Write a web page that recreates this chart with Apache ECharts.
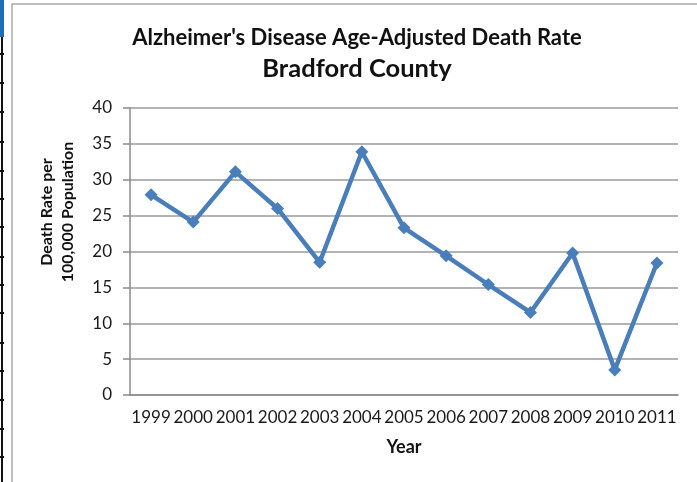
<!DOCTYPE html>
<html>
<head>
<meta charset="utf-8">
<script src="https://cdn.jsdelivr.net/npm/echarts@6/dist/echarts.min.js"></script>
<style>
html,body{margin:0;padding:0;background:#fff;}
#chart{width:697px;height:482px;}
</style>
</head>
<body>
<div id="chart"></div>
<script>
var years = ['1999','2000','2001','2002','2003','2004','2005','2006','2007','2008','2009','2010','2011'];
var deathRate = [27.9, 24.1, 31.1, 26.0, 18.5, 33.9, 23.3, 19.4, 15.4, 11.5, 19.8, 3.5, 18.4];
var titleText = "Alzheimer's Disease Age-Adjusted Death Rate";
var subtitleText = 'Bradford County';
var yAxisTitle = 'Death Rate per\n100,000 Population';
var xAxisTitle = 'Year';

var FONT = 'Lato, "Open Sans", sans-serif';
var chart = echarts.init(document.getElementById('chart'), null, {renderer: 'canvas'});

var edgeTicks = [];
[54, 83, 112, 142, 171, 199, 227, 257, 285, 313, 343, 371, 400, 429, 457].forEach(function (y) {
  edgeTicks.push({type: 'rect', shape: {x: 0, y: y - 1, width: 4, height: 2}, style: {fill: '#111'}, silent: true});
});

chart.setOption({
  backgroundColor: '#fff',
  animation: false,
  title: [
    {text: titleText, left: 352, top: 22, textAlign: 'center',
     textStyle: {fontFamily: FONT, fontWeight: 'bold', fontSize: 22, color: '#111'}},
    {text: subtitleText, left: 352, top: 51, textAlign: 'center',
     textStyle: {fontFamily: FONT, fontWeight: 'bold', fontSize: 25.5, color: '#111'}}
  ],
  grid: {left: 130, right: 19, top: 108, bottom: 87, containLabel: false},
  xAxis: {
    type: 'category',
    data: years,
    boundaryGap: true,
    name: xAxisTitle,
    nameLocation: 'middle',
    nameGap: 43,
    nameTextStyle: {fontFamily: FONT, fontWeight: 'bold', fontSize: 18, color: '#111'},
    axisLine: {show: true, lineStyle: {color: '#8a8a8a', width: 1.5}},
    axisTick: {show: false},
    axisLabel: {fontFamily: FONT, fontSize: 17, color: '#1a1a1a', margin: 14, interval: 0}
  },
  yAxis: {
    type: 'value',
    min: 0, max: 40, interval: 5,
    axisLine: {show: true, lineStyle: {color: '#8a8a8a', width: 1.5}},
    axisTick: {show: true, inside: false, length: 7, lineStyle: {color: '#8a8a8a', width: 1.5}},
    axisLabel: {fontFamily: FONT, fontSize: 17, color: '#1a1a1a', margin: 18},
    splitLine: {show: true, lineStyle: {color: '#9a9a9a', width: 1.5}}
  },
  series: [{
    type: 'line',
    data: deathRate,
    symbol: 'diamond',
    symbolSize: 13,
    lineStyle: {color: '#4a7ebb', width: 4.5},
    itemStyle: {color: '#4a7ebb'}
  }],
  graphic: [
    {type: 'rect', shape: {x: 12, y: 4, width: 700, height: 490}, style: {fill: 'none', stroke: '#a8a8a8', lineWidth: 1.5}, silent: true},
    {type: 'rect', shape: {x: 0, y: 0, width: 4, height: 37}, style: {fill: '#1e6fb3'}, silent: true},
    {type: 'rect', shape: {x: 1, y: 37, width: 2, height: 445}, style: {fill: '#111'}, silent: true},
    {type: 'text', x: 57, y: 212, rotation: Math.PI / 2,
     style: {text: yAxisTitle, align: 'center', verticalAlign: 'middle', fontFamily: FONT, fontWeight: 'bold', fontSize: 16, lineHeight: 21, fill: '#111'}}
  ].concat(edgeTicks)
});
</script>
</body>
</html>
